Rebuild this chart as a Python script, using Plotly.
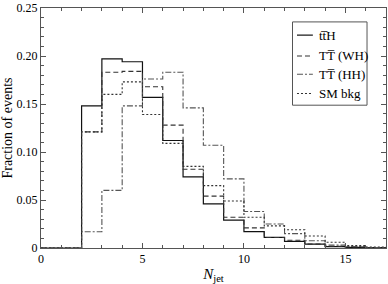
import plotly.graph_objects as go

# Bin edges (N_jet) and fractions of events per bin
edges = list(range(0, 18))
tth = [0, 0, 0.148, 0.197, 0.194, 0.157, 0.112, 0.074, 0.046, 0.029, 0.017, 0.011, 0.007, 0.004, 0.0015, 0.0007, 0.0003]
tt_wh = [0, 0, 0.121, 0.183, 0.184, 0.168, 0.128, 0.082, 0.054, 0.032, 0.021, 0.011, 0.008, 0.004, 0.0018, 0.001, 0.0005]
tt_hh = [0, 0, 0.017, 0.060, 0.148, 0.176, 0.183, 0.146, 0.107, 0.072, 0.038, 0.025, 0.015, 0.0075, 0.003, 0.0015, 0.0005]
sm_bkg = [0, 0, 0.121, 0.160, 0.173, 0.139, 0.109, 0.085, 0.065, 0.049, 0.032, 0.023, 0.019, 0.0125, 0.006, 0.0025, 0.001]

names = ["tt\u0305H", "TT\u0305 (WH)", "TT\u0305 (HH)", "SM bkg"]
series = [tth, tt_wh, tt_hh, sm_bkg]
dashes = ["solid", "5px,3px", "6px,2px,2px,2px", "2px,2px"]
colors = ["#111111", "#333333", "#555555", "#333333"]
widths = [1.2, 1.1, 1.1, 1.1]

y_ticks = [0, 0.05, 0.10, 0.15, 0.20, 0.25]
y_ticktext = ["0", "0.05", "0.10", "0.15", "0.20", "0.25"]
x_ticks = [0, 5, 10, 15]

serif = "'Liberation Serif', 'Times New Roman', Times, serif"

fig = go.Figure()
for name, vals, d, c, w in zip(names, series, dashes, colors, widths):
    fig.add_trace(go.Scatter(
        x=edges, y=vals + [vals[-1]], mode="lines", name=name,
        line=dict(shape="hv", dash=d, color=c, width=w), showlegend=False))

# manual legend (paper coordinates)
bx0, bx1, by0, by1 = 0.729, 0.945, 0.595, 0.942
fig.add_shape(type="rect", xref="paper", yref="paper", x0=bx0, x1=bx1, y0=by0, y1=by1,
              line=dict(color="#555555", width=1), fillcolor="white")
ly = [0.887, 0.800, 0.724, 0.644]
for name, d, c, w, yy in zip(names, dashes, colors, widths, ly):
    fig.add_shape(type="line", xref="paper", yref="paper", x0=0.742, x1=0.788, y0=yy, y1=yy,
                  line=dict(color=c, width=w, dash=d))
    fig.add_annotation(xref="paper", yref="paper", x=0.801, y=yy, text=name, showarrow=False,
                       xanchor="left", yanchor="middle", font=dict(family=serif, size=13, color="black"))

axis_common = dict(showline=True, linecolor="#555555", linewidth=1, mirror="ticks",
                   ticks="inside", ticklen=5, tickcolor="#555555", showgrid=False, zeroline=False,
                   ticklabeloverflow="allow",
                   tickfont=dict(family=serif, size=12, color="black"))

fig.update_xaxes(range=[0, 17], tickvals=x_ticks,
                 minor=dict(dtick=1, ticks="inside", ticklen=3, tickcolor="#555555"),
                 title=dict(text="<i>N</i><sub>jet</sub>", font=dict(family=serif, size=15, color="black"), standoff=3),
                 **axis_common)
fig.update_yaxes(range=[0, 0.25], tickvals=y_ticks, ticktext=y_ticktext,
                 minor=dict(dtick=0.01, ticks="inside", ticklen=3, tickcolor="#555555"),
                 title=dict(text="Fraction of events", font=dict(family=serif, size=14, color="black"), standoff=6),
                 **axis_common)

fig.update_layout(width=388, height=284, margin=dict(l=40, r=1, t=6, b=36),
                  plot_bgcolor="white", paper_bgcolor="white",
                  font=dict(family=serif, color="black"))

fig.write_html("out.html", config={"displayModeBar": False},
               post_script="document.body.style.margin='0';document.body.style.overflow='hidden';")
